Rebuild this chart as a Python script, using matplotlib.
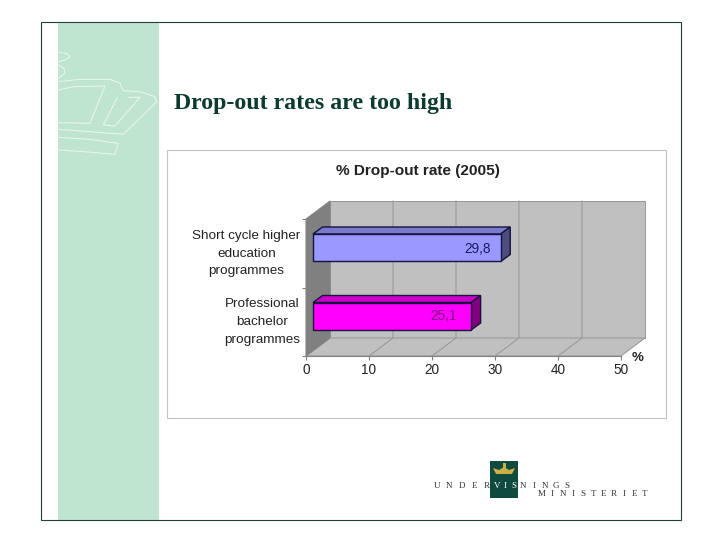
import matplotlib
matplotlib.use("Agg")
import matplotlib.pyplot as plt
from matplotlib.patches import Rectangle, Polygon
from matplotlib.transforms import ScaledTranslation

categories = ["Professional\nbachelor\nprogrammes", "Short cycle higher\neducation\nprogrammes"]
values = [25.1, 29.8]
value_labels = ["25,1", "29,8"]
x_ticks = [0, 10, 20, 30, 40, 50]
front_colors = ["#FF00FF", "#9999FF"]
top_colors = ["#CC00CC", "#7A7ACC"]
side_colors = ["#800080", "#4D4D80"]
label_colors = ["#800080", "#1A1A66"]
chart_title = "% Drop-out rate (2005)"
slide_title = "Drop-out rates are too high"

W, H = 720, 540
fig = plt.figure(figsize=(7.2, 5.4), dpi=100, facecolor="white")
plt.rcParams["font.family"] = ["Liberation Sans", "DejaVu Sans"]

# page layer in pixel coordinates
bg = fig.add_axes([0, 0, 1, 1])
bg.set_xlim(0, W)
bg.set_ylim(H, 0)
bg.axis("off")
bg.add_patch(Rectangle((58, 23), 101, 497, fc="#BFE5D0", ec="none"))
bg.add_patch(Rectangle((41, 22), 640, 498, fc="none", ec="#1F3F3A", lw=0.8))
bg.add_patch(Rectangle((167, 150), 499, 268, fc="white", ec="#C4C4C4", lw=0.8))

crown = [
    [(55, 97), (80, 100), (90, 110), (75, 120), (55, 125)],
    [(55, 135), (72, 145), (75, 160), (55, 175)],
    [(55, 185), (120, 178), (210, 178), (240, 190), (248, 210)],
    [(55, 210), (100, 200), (195, 198), (150, 310), (55, 308)],
    [(232, 232), (190, 315), (225, 318), (300, 232), (265, 232)],
    [(250, 212), (300, 215), (345, 230), (350, 245), (250, 343), (150, 335), (55, 328)],
    [(55, 352), (150, 358), (235, 370), (225, 403), (130, 395), (55, 390)],
]
for line in crown:
    bg.plot([40 + p[0] / 3 for p in line], [20 + p[1] / 3 for p in line],
            color="#E6F5EC", lw=0.8, solid_capstyle="round")

bg.text(174, 104, slide_title, family="Liberation Serif", weight="bold",
        fontsize=17.2, color="#0A3A30", ha="left", va="center")
bg.text(417.5, 171, chart_title, weight="bold", fontsize=11.1, color="#222222",
        ha="center", va="center")
bg.text(637.5, 358, "%", weight="bold", fontsize=9.5, color="#222222",
        ha="center", va="center")

# logo
bg.add_patch(Rectangle((490, 461), 28, 37, fc="#0F4A3F", ec="none"))
bg.add_patch(Polygon([(493, 468), (499, 470), (504, 467), (509, 470), (515, 468),
                      (512, 474), (496, 474)], fc="#C9B04A", ec="none"))
bg.add_patch(Rectangle((502.5, 463), 3, 5, fc="#C9B04A", ec="none"))
word1 = "UNDER"
word2 = "VIS"
word3 = "NINGS"
word4 = "MINISTERIET"
for i, c in enumerate(word1):
    bg.text(437 + i * 12.4, 485.5, c, family="Liberation Serif", fontsize=6.5,
            color="#333333", ha="center", va="center")
for i, c in enumerate(word2):
    bg.text(497 + i * 8.5, 485.5, c, family="Liberation Serif", fontsize=6.5,
            color="white", ha="center", va="center")
for i, c in enumerate(word3):
    bg.text(523 + i * 11, 485.5, c, family="Liberation Serif", fontsize=6.5,
            color="#333333", ha="center", va="center")
for i, c in enumerate(word4):
    bg.text(542 + i * 10.3, 494, c, family="Liberation Serif", fontsize=6.5,
            color="#333333", ha="center", va="center")

# chart axes: 0..50 spans px 306..621, the two bands span px 219..356
x0, x1, ytop, ybot = 306, 621, 219, 356
ax = fig.add_axes([x0 / W, 1 - ybot / H, (x1 - x0) / W, (ybot - ytop) / H])
ax.patch.set_alpha(0)
ax.set_xlim(x_ticks[0], x_ticks[-1])
ax.set_ylim(-0.5, len(categories) - 0.5)
ux = (x1 - x0) / (x_ticks[-1] - x_ticks[0])  # px per value
uy = (ybot - ytop) / len(categories)         # px per band
wdx, wdy = 24 / ux, 18 / uy                  # wall depth
bdx, bdy = 9.5 / ux, 7 / uy                  # bar depth
ymin, ymax = -0.5, len(categories) - 0.5
xmin, xmax = x_ticks[0], x_ticks[-1]

def poly(pts, **kw):
    ax.add_patch(Polygon(pts, clip_on=False, **kw))

wall = dict(ec="#969696", lw=0.7)
poly([(xmin + wdx, ymin + wdy), (xmax + wdx, ymin + wdy), (xmax + wdx, ymax + wdy),
      (xmin + wdx, ymax + wdy)], fc="#C0C0C0", zorder=1, **wall)
poly([(xmin, ymin), (xmax, ymin), (xmax + wdx, ymin + wdy), (xmin + wdx, ymin + wdy)],
     fc="#C0C0C0", zorder=1, **wall)
poly([(xmin, ymin), (xmin + wdx, ymin + wdy), (xmin + wdx, ymax + wdy), (xmin, ymax)],
     fc="#808080", zorder=1, ec="#808080", lw=0.7)
for t in x_ticks[1:-1]:
    ax.plot([t, t + wdx, t + wdx], [ymin, ymin + wdy, ymax + wdy], color="#969696",
            lw=0.7, zorder=2, clip_on=False)

inset = 7 / ux
bar_h = 27.5 / uy
shift = 5.5 / uy
edge = "#14143C"
ys = list(range(len(categories)))
ax.barh([y + shift for y in ys], values, left=inset, height=bar_h, color=front_colors,
        edgecolor=edge, linewidth=1.0, zorder=4)
for y, v, tc, sc, lab, lc, nx, ny in zip(ys, values, top_colors, side_colors, value_labels,
                                         label_colors, [-27.5, -23.5], [0.5, -1]):
    lo = y + shift - bar_h / 2
    hi = y + shift + bar_h / 2
    end = inset + v
    poly([(inset, hi), (end, hi), (end + bdx, hi + bdy), (inset + bdx, hi + bdy)],
         fc=tc, ec=edge, lw=1.0, zorder=3)
    poly([(end, lo), (end + bdx, lo + bdy), (end + bdx, hi + bdy), (end, hi)],
         fc=sc, ec=edge, lw=1.0, zorder=3)
    ax.annotate(lab, (end, y + shift), xytext=(nx * 0.72, ny * 0.72), textcoords="offset points",
                ha="center", va="center", fontsize=9.8, color=lc, zorder=5)

ax.set_xticks(x_ticks)
ax.set_yticks(ys)
ax.set_yticklabels(categories, multialignment="center", linespacing=1.62)
ax.tick_params(axis="x", length=3, width=0.8, color="#808080", labelsize=9.8,
               labelcolor="#222222", pad=2)
ax.tick_params(axis="y", length=3, width=0.8, color="#808080", labelsize=9.7,
               labelcolor="#222222", pad=2)
ax.set_yticks([-0.5, 0.5, 1.5], minor=True)
ax.tick_params(axis="y", which="minor", length=3, width=0.8, color="#808080")
ax.tick_params(axis="y", which="major", length=0, pad=4)
lift = ScaledTranslation(0, 4 / 100, fig.dpi_scale_trans)
for t in ax.get_yticklabels():
    t.set_transform(t.get_transform() + lift)
for s in ("top", "right"):
    ax.spines[s].set_visible(False)
for s in ("left", "bottom"):
    ax.spines[s].set_color("#808080")
    ax.spines[s].set_linewidth(0.8)

fig.savefig("out.png", dpi=100, facecolor="white")
